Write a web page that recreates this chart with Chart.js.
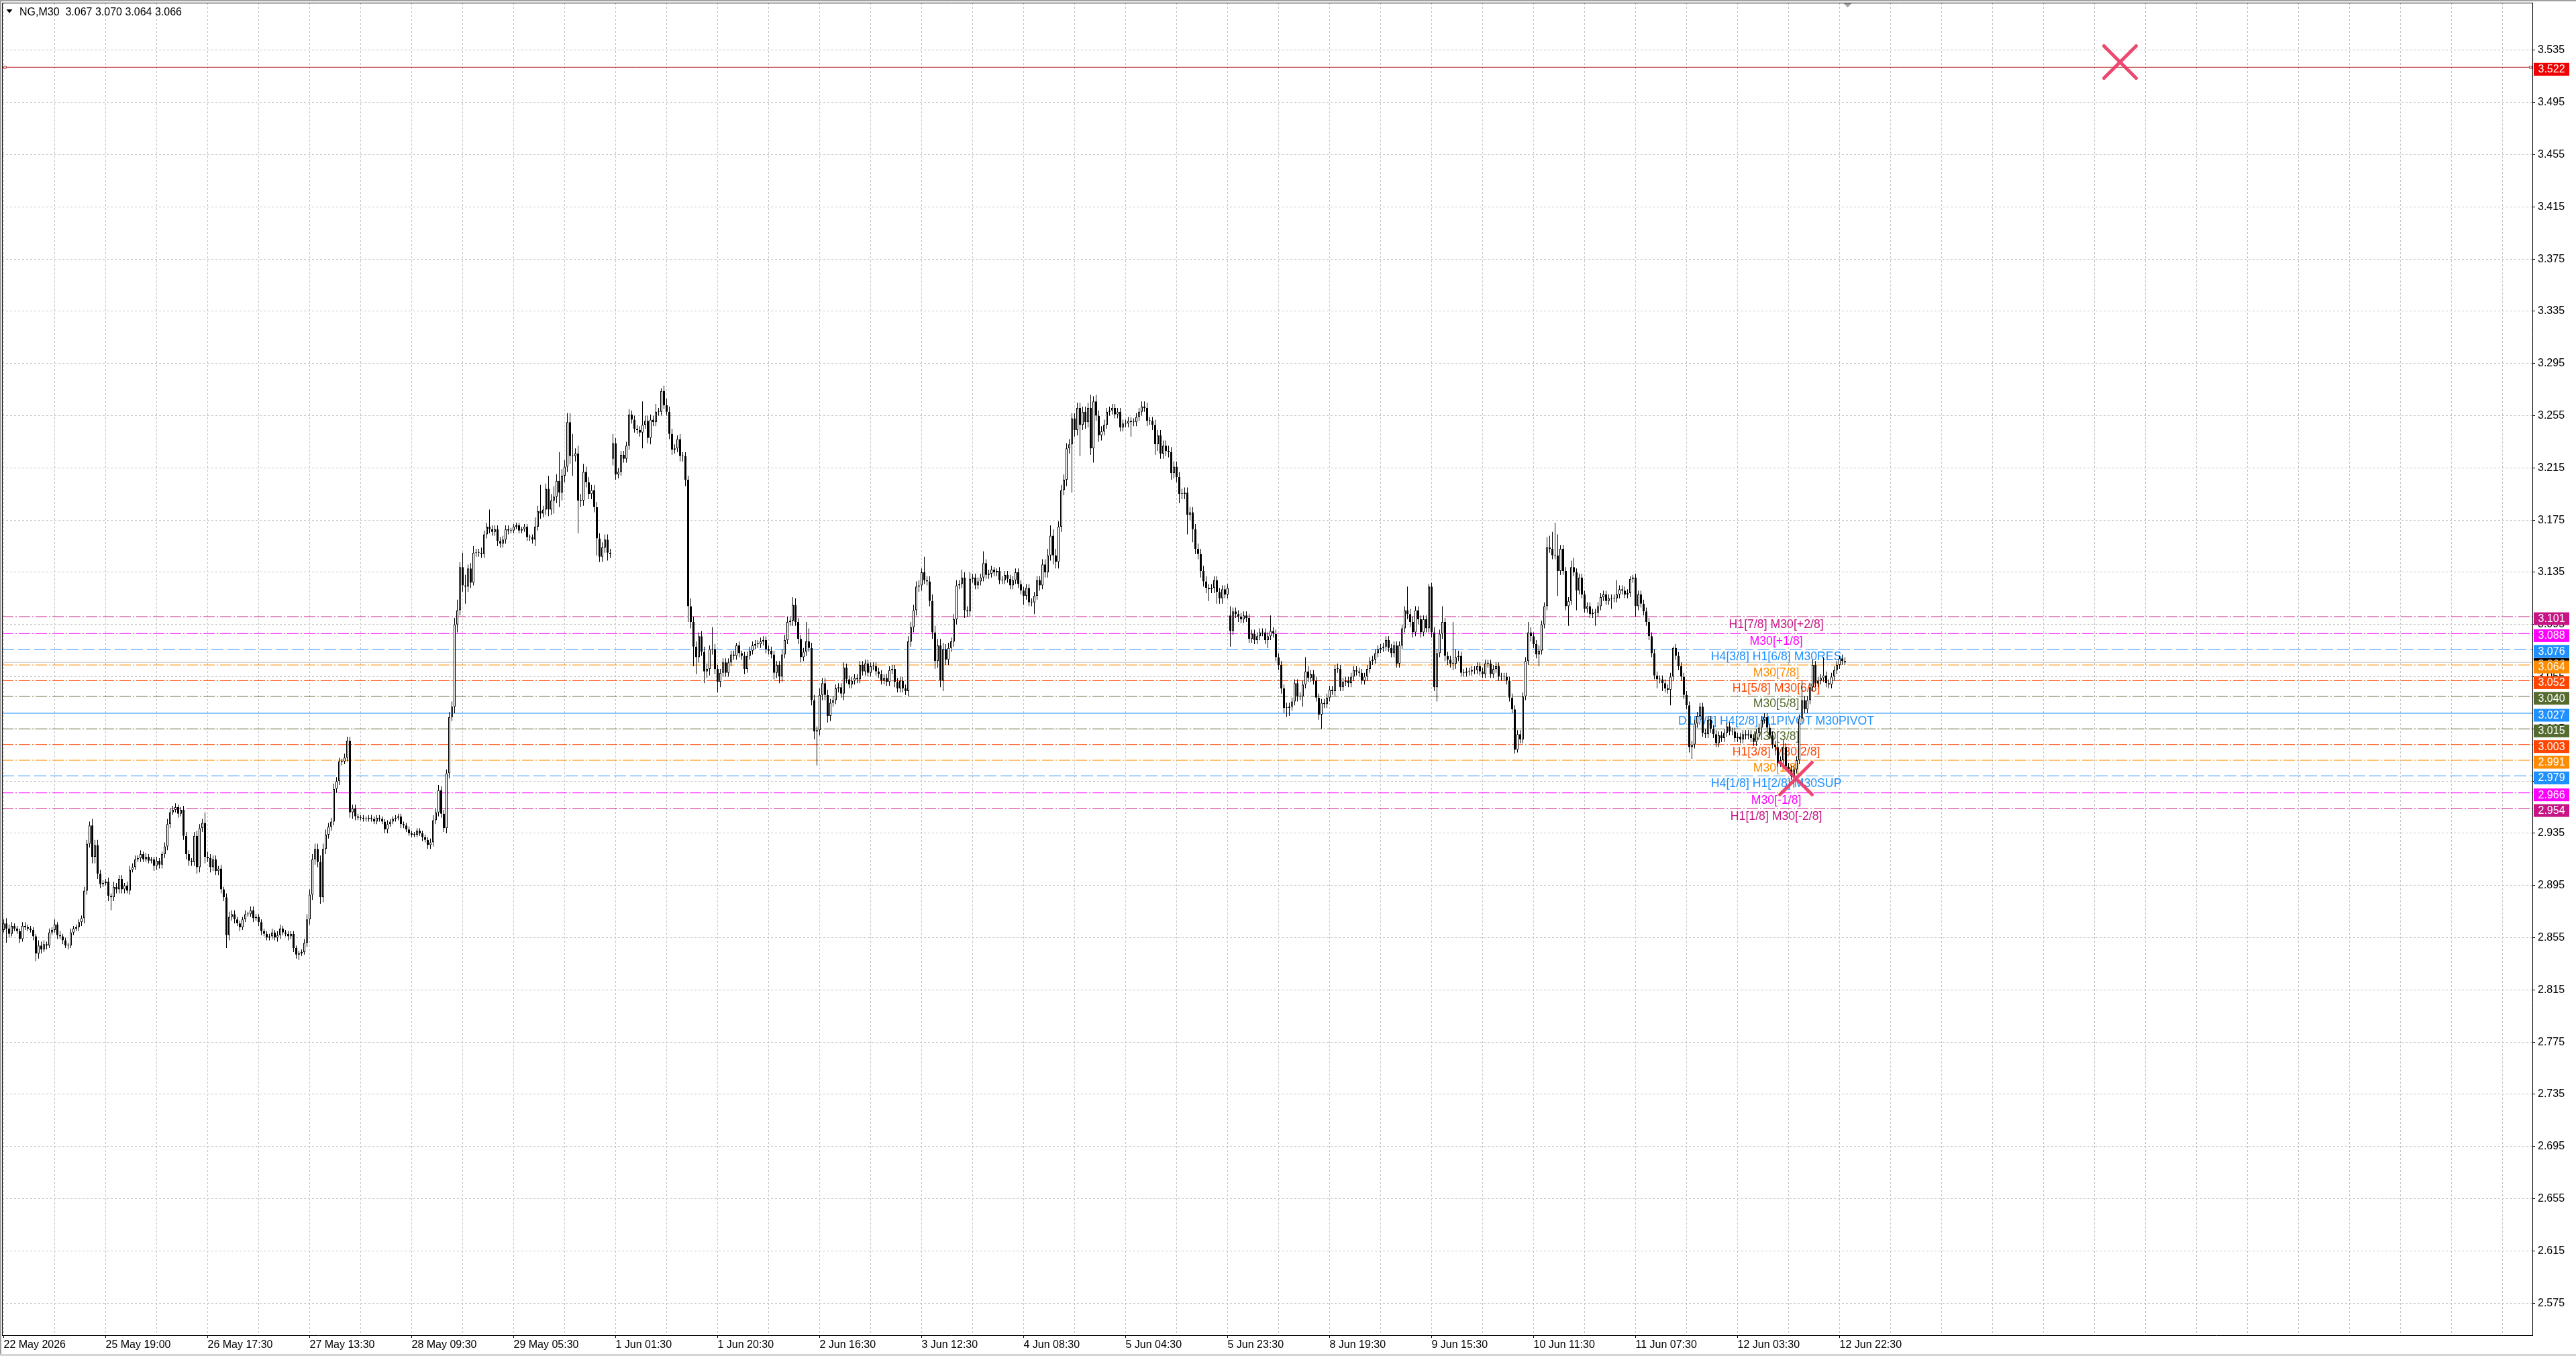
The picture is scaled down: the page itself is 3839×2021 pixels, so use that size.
<!DOCTYPE html>
<html>
<head>
<meta charset="utf-8">
<title>NG,M30</title>
<script src="https://cdn.jsdelivr.net/npm/chart.js@4.4.1/dist/chart.umd.min.js"></script>
<style>
  html, body { margin: 0; padding: 0; background: #fff; overflow: hidden; }
  canvas { display: block; }
</style>
</head>
<body>
<canvas id="chart" width="3839" height="2021"></canvas>
<script>
// ---- data (prices in thousandths) ----
const headerText = 'NG,M30  3.067 3.070 3.064 3.066';
const FIRST_OPEN = 2863;

const closes = [
  2861,2866,2862,2858,2864,2862,2860,2854,2864,2863, 2862,2861,2856,2843,2849,2846,2850,2849,2859,2861,
  2865,2857,2856,2853,2849,2849,2859,2862,2863,2867, 2870,2891,2927,2941,2917,2926,2904,2896,2897,2898,
  2887,2886,2894,2892,2900,2892,2895,2891,2907,2909, 2915,2916,2919,2915,2917,2914,2915,2910,2914,2911,
  2919,2925,2942,2951,2953,2955,2950,2953,2933,2919, 2914,2913,2933,2909,2939,2943,2917,2916,2909,2915,
  2906,2908,2892,2886,2857,2871,2873,2869,2866,2863, 2869,2873,2873,2876,2870,2871,2867,2860,2858,2855,
  2856,2859,2855,2857,2862,2859,2858,2856,2858,2847, 2842,2843,2844,2851,2869,2888,2915,2923,2913,2886,
  2923,2934,2940,2944,2969,2975,2990,2990,2993,3006, 2951,2954,2948,2947,2947,2946,2946,2947,2946,2944,
  2947,2946,2944,2938,2942,2944,2946,2947,2948,2942, 2941,2938,2935,2934,2934,2937,2935,2932,2930,2926,
  2928,2945,2951,2968,2950,2939,2981,3024,3032,3095, 3106,3139,3125,3124,3138,3127,3150,3150,3150,3149,
  3164,3170,3168,3166,3168,3159,3157,3160,3168,3167, 3167,3170,3171,3167,3168,3170,3162,3162,3160,3170,
  3182,3180,3183,3199,3183,3190,3193,3205,3196,3209, 3216,3250,3224,3224,3226,3190,3190,3212,3204,3195,
  3198,3185,3161,3147,3154,3160,3150,3149,3234,3210, 3212,3225,3222,3232,3256,3252,3245,3244,3242,3248,
  3251,3238,3252,3250,3258,3258,3274,3263,3258,3241, 3229,3230,3237,3224,3224,3206,3109,3097,3078,3070,
  3086,3074,3059,3061,3076,3076,3061,3051,3058,3066, 3058,3066,3072,3071,3079,3073,3071,3061,3071,3075,
  3079,3080,3080,3082,3083,3076,3075,3072,3058,3064, 3055,3072,3083,3097,3098,3110,3097,3084,3070,3074,
  3082,3077,3037,3013,3014,3041,3050,3041,3025,3035, 3037,3046,3047,3042,3062,3053,3049,3052,3054,3053,
  3064,3059,3065,3058,3063,3063,3059,3057,3052,3054, 3051,3060,3061,3051,3046,3052,3046,3044,3082,3093,
  3106,3124,3125,3135,3129,3128,3113,3089,3067,3079, 3052,3076,3068,3077,3082,3099,3125,3126,3131,3106,
  3105,3130,3131,3125,3128,3131,3142,3133,3134,3137, 3135,3136,3129,3129,3133,3130,3125,3129,3135,3126,
  3121,3117,3123,3112,3112,3117,3129,3125,3141,3135, 3148,3163,3148,3143,3170,3198,3206,3230,3233,3253,
  3244,3261,3248,3258,3250,3261,3230,3266,3255,3240, 3243,3248,3258,3259,3261,3256,3258,3246,3249,3249,
  3251,3250,3250,3254,3258,3262,3261,3251,3251,3248, 3233,3240,3226,3232,3228,3227,3211,3216,3208,3195,
  3195,3196,3179,3181,3168,3153,3149,3136,3128,3123, 3122,3123,3129,3120,3115,3122,3118,3123,3090,3105,
  3103,3101,3099,3102,3100,3084,3088,3083,3086,3089, 3089,3083,3086,3090,3088,3070,3064,3046,3031,3031,
  3032,3036,3050,3040,3040,3049,3059,3054,3057,3052, 3039,3026,3035,3034,3039,3045,3044,3061,3061,3047,
  3051,3052,3050,3055,3060,3059,3058,3052,3055,3061, 3067,3068,3073,3076,3077,3078,3083,3077,3073,3079,
  3065,3079,3092,3106,3103,3097,3089,3106,3099,3089, 3099,3092,3124,3089,3047,3073,3088,3097,3071,3068,
  3065,3065,3070,3071,3058,3058,3059,3059,3060,3060, 3063,3059,3057,3065,3065,3057,3061,3063,3055,3055,
  3055,3052,3039,3030,2999,3011,3007,3040,3067,3089, 3086,3080,3072,3075,3095,3109,3154,3153,3148,3148,
  3136,3153,3136,3109,3113,3139,3135,3121,3131,3118, 3107,3109,3103,3104,3104,3109,3116,3118,3113,3115,
  3115,3115,3118,3122,3121,3118,3119,3130,3131,3109, 3118,3111,3105,3097,3086,3073,3056,3053,3053,3050,
  3046,3045,3055,3077,3071,3063,3055,3041,3033,3001, 3003,3019,3025,3032,3012,3011,3022,3015,3011,3004,
  3010,3008,3012,3017,3013,3013,3008,3009,3007,3011, 3010,3011,3008,3005,3012,3016,3022,3024,3016,3010,
  3003,3001,2989,2991,3001,2986,2984,2979,2984,2991, 3023,3037,3030,3037,3047,3064,3050,3052,3054,3056,
  3050,3049,3055,3060,3064,3069,3067,3066
];

// wick length above / below the body
const wickUp = [
  2,3,4,3,3,2,2,2,3,3, 2,2,2,2,4,3,3,2,3,2, 4,2,3,2,2,2,3,2,2,2, 2,3,3,3,5,4,4,3,2,2,
  3,2,4,3,3,3,2,3,3,3, 3,2,3,2,3,2,2,2,3,2, 2,3,4,3,3,3,2,2,3,3, 3,2,3,4,3,3,8,4,3,3,
  3,2,3,2,3,4,3,3,2,2, 2,3,2,3,3,2,2,2,2,2, 2,3,2,3,3,2,2,2,2,2, 2,2,2,3,4,4,4,4,4,5,
  4,4,3,3,4,3,3,2,3,3, 3,3,3,2,2,2,2,2,2,2, 2,2,2,2,3,2,2,2,2,2, 2,2,2,2,2,2,2,2,2,2,
  3,4,3,4,3,3,3,4,4,5, 8,4,11,8,3,4,5,3,3,4, 3,3,13,3,3,3,3,3,3,3, 2,2,2,2,2,2,2,2,2,7,
  4,20,3,4,10,5,8,5,22,5, 5,7,7,17,4,6,5,6,4,4, 4,4,4,4,4,4,4,3,7,4, 3,3,3,3,4,3,3,3,3,18,
  4,4,4,3,6,3,2,4,5,4, 4,3,3,4,3,3,3,6,4,4, 3,4,4,4,3,17,4,3,3,3, 3,3,3,3,2,3,2,3,3,3,
  3,3,3,3,3,3,3,3,3,3, 3,4,4,4,3,6,5,3,3,3, 15,10,4,4,3,5,4,4,4,3, 3,3,3,3,4,3,3,3,3,3,
  3,3,3,3,3,3,3,3,3,3, 3,3,3,3,3,3,3,3,4,4, 4,4,4,3,12,3,4,5,5,5, 5,5,4,4,3,4,4,3,6,4,
  3,5,3,3,3,3,9,3,3,3, 2,2,3,3,3,3,3,3,3,3, 3,3,3,3,3,3,3,3,4,4, 5,8,5,5,4,4,4,4,4,4,
  4,4,4,4,4,4,10,4,5,4, 4,4,3,3,3,3,3,3,3,3, 3,3,3,3,3,4,4,4,3,3, 4,4,4,4,4,4,4,4,4,4,
  4,4,4,4,4,4,4,4,4,4, 3,3,3,3,3,3,3,3,7,3, 3,3,3,3,3,3,3,3,3,3, 3,3,3,12,3,3,3,3,3,4,
  3,3,3,3,3,3,11,4,3,3, 3,3,3,3,3,3,3,3,4,3, 3,3,3,3,3,3,3,3,3,3, 3,3,3,3,3,3,3,3,3,3,
  3,3,3,3,18,4,4,3,3,3, 3,3,2,3,4,3,3,12,3,3, 3,32,6,4,3,3,3,3,3,3, 3,3,3,3,3,3,3,3,3,3,
  3,3,3,3,3,3,3,3,3,8, 4,3,3,4,3,3,8,9,13,25, 16,3,3,3,3,5,7,3,3,3, 3,3,3,3,3,3,3,3,3,3,
  3,3,11,3,3,3,3,2,2,3, 3,3,3,3,3,3,3,3,3,3, 3,3,3,1,3,3,3,3,3,3, 3,3,3,3,3,3,3,3,3,3,
  3,3,3,3,3,3,3,3,3,3, 3,3,3,3,3,3,3,3,3,3, 3,3,3,3,6,3,3,3,3,3, 3,15,3,3,3,4,3,3,3,14,
  3,3,3,3,3,2,3,3
];
const wickDown = [
  3,2,11,3,2,2,2,3,2,2, 2,2,3,6,4,3,2,3,2,2, 2,3,2,3,2,3,2,2,2,3, 3,4,3,3,5,5,4,3,2,2,
  4,10,3,3,3,3,3,2,3,2, 2,2,3,2,2,2,2,4,3,3, 3,3,3,3,2,2,3,2,3,4, 4,3,3,5,4,3,5,3,4,3,
  3,3,3,3,10,4,3,3,2,3, 2,2,2,2,3,2,3,3,2,2, 2,2,2,3,3,2,2,3,2,3, 3,4,2,2,3,4,4,4,4,5,
  4,4,3,3,3,3,3,3,2,3, 4,5,3,2,2,2,2,2,2,2, 2,2,2,3,3,2,2,2,2,3, 2,2,2,2,2,2,2,3,2,3,
  3,3,3,3,3,3,4,4,3,5, 6,4,5,13,4,4,2,3,3,3, 3,3,3,3,3,4,3,3,3,3, 2,2,2,2,2,2,3,3,3,5,
  3,4,3,4,5,4,10,5,11,6, 5,4,6,15,4,25,5,4,4,4, 4,4,13,4,4,4,6,3,5,4, 3,3,3,3,3,3,3,3,3,12,
  3,4,5,3,3,3,3,3,3,4, 4,3,3,4,4,5,12,5,15,13, 4,3,9,5,5,4,4,8,4,3, 3,3,3,3,3,3,3,4,3,3,
  3,3,3,3,3,3,3,3,5,4, 5,4,3,3,3,4,3,4,4,3, 3,3,4,6,26,4,4,4,5,4, 3,3,3,3,5,3,3,3,3,3,
  3,3,3,3,3,3,3,3,3,3, 3,3,3,4,3,3,3,3,4,4, 4,4,4,4,3,3,4,5,6,5, 5,8,4,4,3,4,4,3,3,6,
  4,4,3,3,3,3,3,3,3,3, 3,3,3,3,3,3,3,3,3,3, 3,7,3,3,3,9,3,4,3,4, 4,4,7,5,5,4,4,5,4,37,
  5,4,24,4,5,4,5,11,4,5, 4,3,3,3,3,3,3,3,3,3, 3,11,3,3,3,3,3,4,3,4, 8,5,4,4,4,4,5,4,4,7,
  4,4,15,4,10,4,4,5,4,4, 9,3,4,9,4,4,3,3,12,3, 3,4,3,3,3,3,3,3,3,3, 3,3,6,3,3,3,4,4,4,7,
  6,3,3,4,3,8,3,3,3,3, 3,4,11,3,3,3,3,4,3,3, 3,3,3,3,3,3,3,3,3,3, 3,3,3,3,3,3,3,3,3,3,
  3,3,3,3,4,4,4,3,4,4, 3,3,3,4,3,11,3,4,4,4, 3,5,4,3,3,3,3,3,3,3, 3,3,3,3,3,3,3,3,3,3,
  3,3,3,3,3,2,3,3,3,3, 4,3,3,9,3,3,3,3,3,3, 19,3,3,3,15,3,3,15,3,3, 3,3,3,3,10,3,3,3,3,3,
  8,3,3,3,3,3,3,3,3,8, 3,3,3,3,3,3,3,7,3,6, 3,3,12,3,3,3,3,3,3,4, 9,3,3,3,3,3,3,3,3,3,
  3,3,3,3,3,3,3,3,3,3, 3,3,3,3,3,3,3,3,3,3, 3,3,3,3,3,3,3,3,9,3, 3,3,3,3,3,3,3,3,3,3,
  3,3,3,3,3,3,3,2
];

// bars that open with a gap (weekend)
const gapBars = [228, 458];
const gapOpens = [3222, 3102];

// axes
const priceTicks = [2.575, 2.615, 2.655, 2.695, 2.735, 2.775, 2.815, 2.855, 2.895, 2.935, 2.975, 3.015, 3.055,
  3.095, 3.135, 3.175, 3.215, 3.255, 3.295, 3.335, 3.375, 3.415, 3.455, 3.495, 3.535];
const timeLabels = ['22 May 2026', '25 May 19:00', '26 May 17:30', '27 May 13:30', '28 May 09:30', '29 May 05:30',
  '1 Jun 01:30', '1 Jun 20:30', '2 Jun 16:30', '3 Jun 12:30', '4 Jun 08:30', '5 Jun 04:30', '5 Jun 23:30',
  '8 Jun 19:30', '9 Jun 15:30', '10 Jun 11:30', '11 Jun 07:30', '12 Jun 03:30', '12 Jun 22:30'];

// Murrey-style levels drawn on the chart
const levelValues = [3.101, 3.088, 3.076, 3.064, 3.052, 3.040, 3.027, 3.015, 3.003, 2.991, 2.979, 2.966, 2.954];
const levelNames = ['H1[7/8] M30[+2/8]', 'M30[+1/8]', 'H4[3/8] H1[6/8] M30RES', 'M30[7/8]', 'H1[5/8] M30[6/8]',
  'M30[5/8]', 'D1[7/8] H4[2/8] H1PIVOT M30PIVOT', 'M30[3/8]', 'H1[3/8] M30[2/8]', 'M30[1/8]',
  'H4[1/8] H1[2/8] M30SUP', 'M30[-1/8]', 'H1[1/8] M30[-2/8]'];
const levelColors = ['#C71585', '#FF00FF', '#1E90FF', '#FF8C00', '#FF4500', '#556B2F', '#1E90FF',
  '#556B2F', '#FF4500', '#FF8C00', '#1E90FF', '#FF00FF', '#C71585'];
const levelStyles = ['dashdot', 'dashdot', 'dash', 'dashdot', 'dashdot', 'dashdot', 'solid',
  'dashdot', 'dashdot', 'dashdot', 'dash', 'dashdot', 'dashdot'];

const redLineValue = 3.522;
const bidValue = 3.066;
const markBars = [789.5, 668.75];
const markPrices = [3.526, 2.977];

// ---- layout constants ----
const FONT = "'Liberation Sans', Arial, sans-serif";
const X_MIN = 0.375, X_MAX = 943.125;
const Y_MIN = 2.5504, Y_MAX = 3.5715;
const LABEL_BAR = 661.4;
const dashes = { dashdot: [17, 3, 2, 3], dash: [18, 6], solid: [] };

// ---- build candles ----
const opens = closes.map((c, i) => i === 0 ? FIRST_OPEN : closes[i - 1]);
gapBars.forEach((b, j) => { opens[b] = gapOpens[j]; });

const bodyData = closes.map((c, i) => ({ x: i, y: [opens[i] / 1000, c / 1000] }));
const wickData = closes.map((c, i) => ({
  x: i,
  y: [(Math.min(opens[i], c) - wickDown[i]) / 1000, (Math.max(opens[i], c) + wickUp[i]) / 1000]
}));
const bodyFill = closes.map((c, i) => c >= opens[i] ? '#ffffff' : '#000000');

const levelSets = levelValues.map((v, i) => ({
  type: 'line',
  data: [{ x: X_MIN, y: v }, { x: X_MAX, y: v }],
  borderColor: levelColors[i],
  borderWidth: 1,
  borderDash: dashes[levelStyles[i]],
  pointRadius: 0,
  order: 10
}));

const gridBars = [];
for (let n = 0; n < 50; n++) gridBars.push(1 + 19 * n);

// ---- plugins ----
const levelText = {
  id: 'levelText',
  beforeDatasetsDraw(chart) {
    const { ctx, scales: { x, y } } = chart;
    ctx.save();
    ctx.font = '17.7px ' + FONT;
    ctx.textAlign = 'center';
    ctx.textBaseline = 'alphabetic';
    levelValues.forEach((v, i) => {
      ctx.fillStyle = levelColors[i];
      ctx.fillText(levelNames[i], x.getPixelForValue(LABEL_BAR), y.getPixelForValue(v) + 16.7);
    });
    ctx.restore();
  }
};

const roundCaps = {
  id: 'roundCaps',
  beforeDatasetDraw(chart, args) {
    if (chart.data.datasets[args.index].isMark) chart.ctx.lineCap = 'round';
  },
  afterDatasetDraw(chart) { chart.ctx.lineCap = 'butt'; }
};

function priceBox(ctx, x0, yPix, bg, text) {
  ctx.fillStyle = bg;
  ctx.fillRect(x0 + 2, yPix - 8, 53, 19);
  ctx.fillStyle = '#ffffff';
  ctx.fillText(text, x0 + 8.5, yPix + 2);
}

const frame = {
  id: 'frame',
  afterDraw(chart) {
    const { ctx, chartArea: a, scales: { x, y } } = chart;
    ctx.save();
    // window edges
    ctx.fillStyle = '#a0a0a0';
    ctx.fillRect(0, 0, chart.width, 2);
    ctx.fillRect(0, 0, 2, chart.height);
    ctx.fillStyle = '#d4d4d4';
    ctx.fillRect(0, chart.height - 3, chart.width, 3);
    // top + left border of the chart
    ctx.strokeStyle = '#000';
    ctx.lineWidth = 1;
    ctx.beginPath();
    ctx.moveTo(a.left + 0.5, a.bottom);
    ctx.lineTo(a.left + 0.5, a.top + 0.5);
    ctx.lineTo(a.right, a.top + 0.5);
    ctx.stroke();
    // shift marker
    const sx = x.getPixelForValue(closes.length);
    ctx.fillStyle = '#a0a0a0';
    ctx.beginPath();
    ctx.moveTo(sx - 6, a.top + 1);
    ctx.lineTo(sx + 6, a.top + 1);
    ctx.lineTo(sx, a.top + 7);
    ctx.fill();
    // header
    ctx.fillStyle = '#000';
    ctx.beginPath();
    ctx.moveTo(9.5, 14);
    ctx.lineTo(18.5, 14);
    ctx.lineTo(14, 19.5);
    ctx.fill();
    ctx.font = '16px ' + FONT;
    ctx.textBaseline = 'alphabetic';
    ctx.textAlign = 'left';
    ctx.fillText(headerText, 29, 22.5);
    // price boxes on the axis
    ctx.textBaseline = 'middle';
    priceBox(ctx, a.right, y.getPixelForValue(bidValue) + 1.5, '#000000', bidValue.toFixed(3));
    levelValues.forEach((v, i) => {
      priceBox(ctx, a.right, y.getPixelForValue(v) + 1.5, levelColors[i], v.toFixed(3));
    });
    priceBox(ctx, a.right, y.getPixelForValue(redLineValue) + 1.5, '#f00000', redLineValue.toFixed(3));
    ctx.restore();
  }
};

// no extra label padding around the plot
function noPad(s) {
  s.paddingTop = 0; s.paddingBottom = 0; s.paddingLeft = 0; s.paddingRight = 0;
}

// ---- chart ----
Chart.defaults.font.family = FONT;

new Chart(document.getElementById('chart').getContext('2d'), {
  type: 'bar',
  data: {
    datasets: [
      ...levelSets,
      {
        type: 'line',
        data: [{ x: X_MIN, y: bidValue }, { x: X_MAX, y: bidValue }],
        borderColor: '#c0c0c0',
        borderWidth: 1,
        pointRadius: 0,
        order: 9
      },
      {
        type: 'line',
        data: [{ x: X_MIN, y: redLineValue }, { x: 1.5, y: redLineValue }, { x: 942.5, y: redLineValue }, { x: X_MAX, y: redLineValue }],
        borderColor: '#b8242a',
        borderWidth: 1,
        pointStyle: 'rect',
        pointRadius: [0, 2.5, 2.5, 0],
        pointBackgroundColor: '#ffffff',
        pointBorderColor: '#b8242a',
        pointBorderWidth: 1,
        order: 9
      },
      {
        label: 'wicks',
        data: wickData,
        backgroundColor: '#000000',
        borderWidth: 0,
        barThickness: 1,
        grouped: false,
        inflateAmount: 0,
        order: 5
      },
      {
        label: 'bodies',
        data: bodyData,
        backgroundColor: bodyFill,
        borderColor: '#000000',
        borderWidth: 1,
        borderSkipped: false,
        barThickness: 3,
        minBarLength: 1,
        grouped: false,
        inflateAmount: 0,
        order: 4
      },
      {
        type: 'line',
        isMark: true,
        data: markBars.map((b, i) => ({ x: b, y: markPrices[i] })),
        showLine: false,
        pointStyle: 'crossRot',
        pointRadius: 34,
        pointBorderWidth: 5,
        pointBorderColor: 'rgba(234, 56, 100, 0.92)',
        pointBackgroundColor: 'rgba(0,0,0,0)',
        order: 0
      }
    ]
  },
  options: {
    responsive: false,
    animation: false,
    devicePixelRatio: 1,
    events: [],
    layout: { autoPadding: false, padding: { left: 3, top: 4, right: 0, bottom: 0 } },
    plugins: { legend: { display: false }, tooltip: { enabled: false } },
    scales: {
      x: {
        type: 'linear',
        min: X_MIN,
        max: X_MAX,
        offset: false,
        afterBuildTicks: s => { s.ticks = gridBars.map(v => ({ value: v })); },
        afterFit: s => { s.height = 31; noPad(s); },
        ticks: {
          autoSkip: false,
          maxRotation: 0,
          minRotation: 0,
          align: 'start',
          padding: 1,
          color: '#000',
          font: { size: 16 },
          callback: (v, i) => i % 2 === 0 ? (timeLabels[i / 2] || '') : ''
        },
        grid: {
          offset: false,
          color: '#c3c3c3',
          lineWidth: 1,
          tickLength: 4,
          tickColor: c => (c.index % 2 === 0 && c.index / 2 < timeLabels.length) ? '#000' : 'rgba(0,0,0,0)'
        },
        border: { display: true, color: '#000', width: 1, dash: [3, 3] }
      },
      y: {
        position: 'right',
        min: Y_MIN,
        max: Y_MAX,
        afterBuildTicks: s => { s.ticks = priceTicks.map(v => ({ value: v })); },
        afterFit: s => { s.width = 65; noPad(s); },
        ticks: {
          padding: 4,
          color: '#000',
          font: { size: 16 },
          callback: v => v.toFixed(3)
        },
        grid: { color: '#c3c3c3', lineWidth: 1, tickLength: 4, tickColor: '#000' },
        border: { display: true, color: '#000', width: 1, dash: [3, 3] }
      }
    }
  },
  plugins: [levelText, roundCaps, frame]
});
</script>
</body>
</html>
